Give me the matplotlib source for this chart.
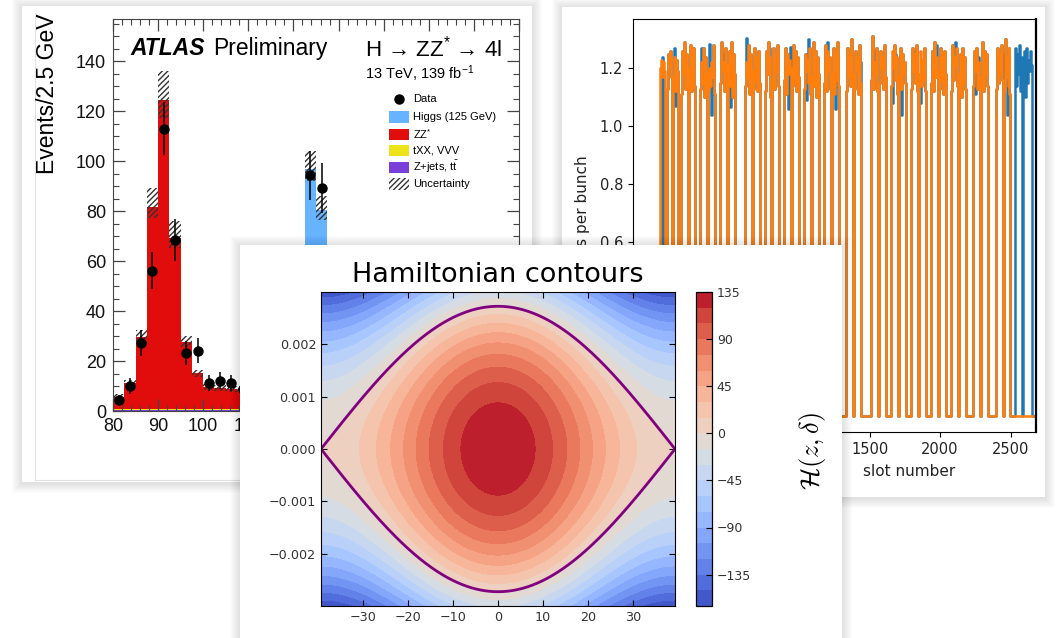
import numpy as np
import matplotlib
matplotlib.use('Agg')
import matplotlib.pyplot as plt
from matplotlib.patches import Rectangle
from matplotlib.lines import Line2D
from matplotlib.ticker import MultipleLocator
from matplotlib.transforms import Bbox

W, H = 1056, 638

# ---------------- ATLAS H -> ZZ* -> 4l (left card) ----------------
mass_lo = [80.0, 82.5, 85.0, 87.5, 90.0, 92.5, 95.0, 97.5, 100.0, 102.5,
           105.0, 107.5, 110.0, 112.5, 115.0, 117.5, 120.0, 122.5, 125.0, 127.5]
zjets = [0.6, 0.6, 0.6, 0.6, 0.6, 0.6, 0.6, 0.6, 0.6, 0.6,
         0.6, 0.6, 0.4, 0.4, 0.4, 0.4, 0.4, 0.4, 0.4, 0.4]
txx = [0.15] * 20
zz = [4.8, 10.4, 28.8, 81.0, 123.8, 68.4, 27.0, 14.3, 8.9, 8.3,
      7.9, 7.6, 7.2, 6.8, 6.5, 6.3, 6.1, 6.0, 5.8, 5.6]
higgs = [0, 0, 0, 0, 0, 0, 0, 0, 0, 0,
         0, 0, 0, 0, 0.3, 1.5, 12.0, 90.5, 74.0, 11.0]
band_lo = [4.2, 10.0, 27.0, 77.2, 117.4, 65.2, 25.7, 13.7, 8.5, 8.0,
           7.7, 7.4, 6.9, 6.6, 6.4, 7.4, 16.5, 92.0, 76.6, 15.5]
band_hi = [6.8, 12.6, 32.4, 89.3, 136.1, 75.9, 30.0, 16.6, 11.0, 10.3,
           10.0, 9.6, 8.8, 8.3, 8.2, 9.4, 21.5, 104.0, 86.0, 19.5]
data = [4.3, 10.2, 27.3, 56.2, 113.0, 68.4, 23.3, 24.2, 11.2, 12.2,
        11.2, 9.0, 6.0, 8.0, 7.0, 10.0, 22.0, 94.4, 89.3, 14.0]
data_err = [2.1, 3.2, 5.2, 7.5, 10.6, 8.3, 4.8, 4.9, 3.3, 3.5,
            3.3, 3.0, 2.4, 2.8, 2.6, 3.2, 4.7, 9.7, 10.0, 3.7]
legend_labels = ['Data', 'Higgs (125 GeV)', 'ZZ$^{*}$', 'tXX, VVV',
                 r'Z+jets, t$\bar{\mathrm{t}}$', 'Uncertainty']

# ---------------- bunch intensity vs slot (right card) ----------------
train_start = [12, 62, 160, 300, 442, 618, 755, 895, 1036, 1180,
               1334, 1510, 1651, 1793, 1934, 2076, 2232, 2394]
orange_levels = [
    [1.20, 1.23, 1.17, 1.22, 1.19],
    [1.13, 1.25, 1.21, 1.26, 1.17, 0, 1.15, 1.24, 1.12, 1.23, 1.19],
    [1.11, 1.26, 1.18, 1.29, 1.13, 1.25, 1.20, 0, 1.16, 1.28, 1.12, 1.24, 1.17, 1.27, 1.14],
    [1.13, 1.22, 1.15, 1.27, 1.10, 1.24, 1.18, 0, 1.12, 1.20, 1.14, 1.22, 1.17, 1.28, 1.11],
    [1.15, 1.29, 1.19, 1.22, 1.12, 1.27, 1.16, 0, 1.21, 1.26, 1.14, 1.29, 1.10, 1.25, 1.18],
    [1.14, 1.22, 1.17, 1.28, 1.11, 1.25, 1.19, 0, 1.13, 1.27, 1.16, 1.24, 1.12, 1.26, 1.15],
    [1.12, 1.26, 1.18, 1.29, 1.21, 1.24, 1.10, 0, 1.16, 1.27, 1.13, 1.25, 1.19, 1.28, 1.14],
    [1.16, 1.27, 1.11, 1.25, 1.18, 1.23, 1.20, 0, 1.14, 1.28, 1.15, 1.26, 1.12, 1.24, 1.17],
    [1.13, 1.25, 1.19, 1.23, 1.15, 1.27, 1.11, 0, 1.17, 1.29, 1.14, 1.26, 1.10, 1.24, 1.18],
    [1.15, 1.28, 1.12, 1.26, 1.19, 1.24, 1.13, 0, 1.18, 1.27, 1.11, 1.25, 1.16, 1.29, 1.14],
    [1.12, 1.27, 1.17, 1.25, 1.14, 1.30, 1.18, 0, 1.13, 1.26, 1.19, 1.24, 1.11, 1.28, 1.15],
    [1.16, 1.31, 1.13, 1.22, 1.18, 1.27, 1.12, 0, 1.15, 1.26, 1.20, 1.24, 1.13, 1.28, 1.17],
    [1.14, 1.26, 1.20, 1.28, 1.16, 1.24, 1.11, 0, 1.17, 1.27, 1.13, 1.25, 1.18, 1.22, 1.15],
    [1.13, 1.27, 1.19, 1.25, 1.15, 1.28, 1.12, 0, 1.18, 1.26, 1.14, 1.23, 1.16, 1.27, 1.12],
    [1.15, 1.26, 1.12, 1.29, 1.17, 1.24, 1.19, 0, 1.13, 1.27, 1.16, 1.25, 1.11, 1.26, 1.18],
    [1.12, 1.28, 1.16, 1.24, 1.21, 1.27, 1.14, 0, 1.18, 1.25, 1.10, 1.27, 1.15, 1.24, 1.13],
    [1.14, 1.26, 1.19, 1.27, 1.13, 1.22, 1.17, 0, 1.15, 1.29, 1.12, 1.26, 1.18, 1.25, 1.14],
    [1.13, 1.27, 1.15, 1.25, 1.18, 1.28, 1.16, 0, 1.12, 1.30, 1.17, 1.24, 1.14, 1.27, 1.11],
]
blue_first = [1.24, 1.19]
blue_first_start = 30
blue_last = [1.27, 1.14, 1.25, 1.18, 1.28, 1.12, 1.24, 0, 1.16, 1.26, 1.10, 1.27, 1.15, 1.23, 1.19, 1.26, 1.21]
blue_last_start = 2532
# (train, bunch group, value) where the blue fill differs from the orange one
blue_changes = [
    (1, 7, 1.27), (1, 8, 1.07), (3, 1, 1.27), (3, 9, 1.285), (3, 11, 1.04),
    (4, 3, 1.25), (4, 10, 1.065), (5, 1, 1.305), (6, 5, 1.27),
    (7, 4, 1.06), (7, 6, 1.275), (8, 2, 1.09), (8, 4, 1.30),
    (9, 3, 1.29), (9, 11, 1.06), (10, 14, 1.22), (11, 3, 1.26),
    (12, 1, 1.08), (12, 4, 1.25), (12, 10, 1.04), (13, 2, 1.26), (13, 9, 1.08),
    (14, 5, 1.28), (15, 4, 1.29), (16, 2, 1.11), (16, 5, 1.24),
    (17, 8, 1.25), (17, 11, 1.04),
]
slot_ticks = [0, 500, 1000, 1500, 2000, 2500]
slot_ticklabels = ['', '', '', '1500', '2000', '2500']   # first three sit under the front card

# ---------------- Hamiltonian contours (front card) ----------------
z_sep = 39.3          # half bucket length
delta_sep = 0.002727  # bucket height
h_peak = 134.0        # H at bucket centre
h_levels = np.arange(-165, 136, 15)
cbar_ticks = [-135, -90, -45, 0, 45, 90, 135]


def rect(x0, y0, x1, y1):
    return [x0 / W, 1 - y1 / H, (x1 - x0) / W, (y1 - y0) / H]


def card(fig, x0, y0, x1, y1, z):
    for k in range(1, 11):
        fig.add_artist(Rectangle(((x0 - k) / W, 1 - (y1 + k + 1) / H),
                                 (x1 - x0 + 2 * k) / W, (y1 - y0 + 2 * k) / H,
                                 transform=fig.transFigure, facecolor='k',
                                 edgecolor='none', alpha=0.012, zorder=z - 0.5))
    fig.add_artist(Rectangle((x0 / W, 1 - y1 / H), (x1 - x0) / W, (y1 - y0) / H,
                             transform=fig.transFigure, facecolor='white',
                             edgecolor='none', zorder=z))


def train_series(starts, levels, end=2700, step=7):
    s, v = [0], [0.0]
    for st, lv in zip(starts, levels):
        for i, val in enumerate(lv):
            s.append(st + step * i)
            v.append(val)
        s.append(st + step * len(lv))
        v.append(0.0)
    s.append(end)
    v.append(0.0)
    return s, v


fig = plt.figure(figsize=(W / 100, H / 100), dpi=100)
fig.patch.set_facecolor('white')

plt.rcParams['mathtext.rm'] = 'Liberation Sans'
plt.rcParams['mathtext.it'] = 'Liberation Sans:italic'
plt.rcParams['mathtext.bf'] = 'Liberation Sans:bold'
SANS = 'Liberation Sans'

# ===== card 1 : ATLAS =====
card(fig, 22, 6, 532, 482, 1)
fig.add_artist(Line2D([35 / W, 35 / W], [1 - 13 / H, 1 - 480 / H], transform=fig.transFigure,
                      color='#e2e2e2', lw=0.8, zorder=1.1))
fig.add_artist(Line2D([35 / W, 532 / W], [1 - 480 / H, 1 - 480 / H], transform=fig.transFigure,
                      color='#e2e2e2', lw=0.8, zorder=1.1))

ax1 = fig.add_axes(rect(113, 19, 519, 411), zorder=2)
left = np.array(mass_lo)
base = np.zeros(len(left))
for vals, col in [(zjets, '#7a3fd8'), (txx, '#eee318'), (zz, '#e10d0d'), (higgs, '#66b3ff')]:
    ax1.bar(left, vals, width=2.5, bottom=base, align='edge', color=col, linewidth=0)
    base = base + np.array(vals)
ax1.bar(left, np.array(band_hi) - np.array(band_lo), bottom=band_lo, width=2.5, align='edge',
        fill=False, hatch='//////', edgecolor='#333333', linewidth=0)
ax1.errorbar(left + 1.25, data, yerr=data_err, fmt='o', color='black', ms=6.5,
             elinewidth=1.1, capsize=0, zorder=5)
ax1.set_xlim(80, 170)
ax1.set_ylim(0, 157)
ax1.xaxis.set_major_locator(MultipleLocator(10))
ax1.xaxis.set_minor_locator(MultipleLocator(2))
ax1.yaxis.set_major_locator(MultipleLocator(20))
ax1.yaxis.set_minor_locator(MultipleLocator(5))
ax1.tick_params(which='both', direction='in', top=True, right=True, color='#444444',
                labelsize=13, labelcolor='#111111', pad=5, labelfontfamily=SANS)
ax1.tick_params(which='major', length=8.5, width=0.9)
ax1.tick_params(which='minor', length=4.3, width=0.8)
for sp in ax1.spines.values():
    sp.set_color('#444444')
ax1.set_xlabel(r'm$_{4l}$ [GeV]', fontsize=15, family=SANS, math_fontfamily='custom')
ax1.xaxis.set_label_coords(1.0, -0.1)
ax1.xaxis.label.set_ha('right')

fig.text(48 / W, 1 - 13 / H, 'Events/2.5 GeV', rotation=90, ha='center', va='top',
         fontsize=16.5, family=SANS, zorder=2.5)
fig.text(130 / W, 1 - 55 / H, 'ATLAS', fontsize=16.5, family=SANS, weight='bold',
         style='italic', ha='left', va='baseline', zorder=2.5)
fig.text(212.7 / W, 1 - 55 / H, 'Preliminary', fontsize=16.5, family=SANS,
         ha='left', va='baseline', zorder=2.5)
fig.text(365 / W, 1 - 57 / H, 'H \u2192 ZZ$^{*}$ \u2192 4l', fontsize=16, family=SANS,
         math_fontfamily='custom', ha='left', va='baseline', zorder=2.5)
fig.text(365 / W, 1 - 78.5 / H, '13 TeV, 139 fb$^{-1}$', fontsize=10.5, family=SANS,
         math_fontfamily='custom', ha='left', va='baseline', zorder=2.5)

# legend drawn in pixel positions
leg_y = [99.3, 117, 134, 150.5, 167, 184]
leg_fill = [None, '#66b3ff', '#e10d0d', '#eee318', '#7a3fd8', 'hatch']
for yy, lab, fc in zip(leg_y, legend_labels, leg_fill):
    if fc is None:
        fig.add_artist(Line2D([399 / W], [1 - yy / H], transform=fig.transFigure, marker='o',
                              color='black', ms=6.5, zorder=2.6))
    elif fc == 'hatch':
        fig.add_artist(Rectangle((389 / W, 1 - (yy + 5.5) / H), 20 / W, 11 / H,
                                 transform=fig.transFigure, fill=False, hatch='//////',
                                 edgecolor='#333333', linewidth=0, zorder=2.6))
    else:
        fig.add_artist(Rectangle((389 / W, 1 - (yy + 5.5) / H), 20 / W, 11 / H,
                                 transform=fig.transFigure, facecolor=fc, edgecolor='none',
                                 zorder=2.6))
    fig.text(412.7 / W, 1 - yy / H, lab, fontsize=8, family=SANS, math_fontfamily='custom',
             ha='left', va='center', zorder=2.6)

# ===== card 2 : slot number =====
card(fig, 562, 7, 1045, 497, 3)
ax2 = fig.add_axes(rect(633, 19, 1036, 432), zorder=4)
blue_levels = [list(blue_first)] + [list(l) for l in orange_levels[1:]] + [list(blue_last)]
for b, i, v in blue_changes:
    blue_levels[b][i] = v
blue_starts = [blue_first_start] + train_start[1:] + [blue_last_start]
bs, bv = train_series(blue_starts, blue_levels)
os_, ov = train_series(train_start, orange_levels)
ax2.plot(bs, bv, drawstyle='steps-post', color='#1f77b4', lw=1.8)
ax2.plot(os_, ov, drawstyle='steps-post', color='#ff7f0e', lw=1.8)
ax2.set_xlim(-178, 2680)
ax2.set_ylim(-0.055, 1.37)
ax2.set_yticks([0.0, 0.2, 0.4, 0.6, 0.8, 1.0, 1.2])
ax2.set_xticks(slot_ticks)
ax2.set_xticklabels(slot_ticklabels)
ax2.tick_params(labelsize=10.5, labelcolor='#222222')
ax2.spines['right'].set_linewidth(1.6)
ylab = fig.text(582 / W, 1 - 225.5 / H, 'protons per bunch', rotation=90, ha='center',
                va='center', fontsize=11, color='#222222', zorder=4.2)
# only the part above the front card is visible in the picture
ylab.set_clip_box(Bbox([[560, H - 245], [600, H - 140]]))
ylab.set_clip_on(True)
fig.text(909 / W, 1 - 472 / H, 'slot number', ha='center', va='center',
         fontsize=11, color='#222222', zorder=4.2)

# ===== card 3 : Hamiltonian contours =====
card(fig, 240, 245, 842, 660, 5)
ax3 = fig.add_axes(rect(321, 292, 675, 606), zorder=6)
zz_grid = np.linspace(-z_sep, z_sep, 500)
dd_grid = np.linspace(-0.003, 0.003, 500)
Zg, Dg = np.meshgrid(zz_grid, dd_grid)
Hg = h_peak * (np.cos(np.pi * Zg / (2 * z_sep)) ** 2 - (Dg / delta_sep) ** 2)
cf = ax3.contourf(Zg, Dg, Hg, levels=h_levels, cmap='coolwarm')
sep = delta_sep * np.cos(np.pi * zz_grid / (2 * z_sep))
ax3.plot(zz_grid, sep, color='#800080', lw=2)
ax3.plot(zz_grid, -sep, color='#800080', lw=2)
ax3.set_xlim(-z_sep, z_sep)
ax3.set_ylim(-0.003, 0.003)
ax3.set_xticks([-30, -20, -10, 0, 10, 20, 30])
ax3.set_yticks([-0.002, -0.001, 0.0, 0.001, 0.002])
ax3.set_yticklabels(['\u22120.002', '\u22120.001', '0.000', '0.001', '0.002'])
ax3.tick_params(direction='in', top=True, right=True, length=4, labelsize=9.2,
                labelcolor='#333333')
fig.text(498 / W, 1 - 275 / H, 'Hamiltonian contours', ha='center', va='center',
         fontsize=19.5, zorder=6.5)

cax = fig.add_axes(rect(696, 292, 712, 606), zorder=6)
cb = fig.colorbar(cf, cax=cax, ticks=cbar_ticks)
cb.ax.tick_params(direction='in', length=4, labelsize=9, labelcolor='#333333')
cb.outline.set_linewidth(0.9)
fig.text(813 / W, 1 - 451 / H, r'$\mathcal{H}(z,\delta)$', rotation=90, ha='center',
         va='center', fontsize=19, math_fontfamily='cm', zorder=6.5)

fig.savefig('out.png', dpi=100)
